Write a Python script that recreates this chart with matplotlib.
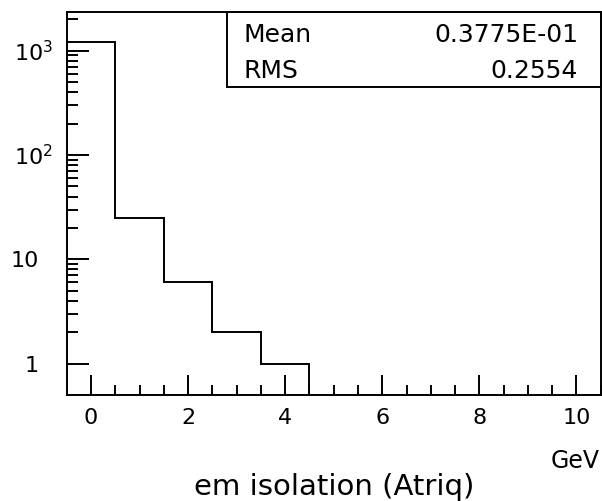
import matplotlib
matplotlib.use("Agg")
import matplotlib.pyplot as plt
import matplotlib.transforms as mtransforms
from matplotlib.ticker import FixedLocator, NullFormatter
import numpy as np

# Histogram data: em isolation (Atriq), 11 bins of 1 GeV from -0.5 to 10.5
bin_edges = np.arange(-0.5, 11.0, 1.0)
counts = [1211, 25, 6, 2, 1, 0, 0, 0, 0, 0, 0]
stat_names = ["Mean", "RMS"]
stat_values = ["0.3775E-01", "0.2554"]
x_major = [0, 2, 4, 6, 8, 10]
y_major = [1, 10, 100, 1000]
y_major_labels = ["1", "10", r"10$^{2}$", r"10$^{3}$"]

lw = 1.4

fig = plt.figure(figsize=(6.02, 5.01), dpi=100)
ax = fig.add_axes([66.7 / 602, 106 / 501, 534 / 602, 383 / 501])

ax.set_yscale("log", nonpositive="clip")
ax.stairs(counts, bin_edges, color="black", linewidth=lw)

ax.set_xlim(-0.5, 10.5)
ax.set_ylim(0.5, 2350)

for sp in ax.spines.values():
    sp.set_linewidth(lw)

# x ticks
ax.xaxis.set_major_locator(FixedLocator(x_major))
ax.xaxis.set_minor_locator(FixedLocator(np.arange(0, 10.6, 0.5)))
ax.set_xticklabels([str(v) for v in x_major])
ax.tick_params(axis="x", which="major", direction="in", length=14.4, width=lw,
               labelsize=16, pad=9, top=False)
ax.tick_params(axis="x", which="minor", direction="in", length=7.2, width=lw, top=False)

# y ticks
minors = [m * 10 ** d for d in range(0, 4) for m in range(2, 10)]
ax.yaxis.set_major_locator(FixedLocator(y_major))
ax.yaxis.set_minor_locator(FixedLocator(minors))
ax.yaxis.set_minor_formatter(NullFormatter())
ax.set_yticklabels(y_major_labels)
ax.tick_params(axis="y", which="major", direction="in", length=15.8, width=lw,
               labelsize=16, pad=20, right=False)
ax.tick_params(axis="y", which="minor", direction="in", length=7.6, width=lw, right=False)

# keep the mantissa of 10^n aligned with the plain labels
shift = mtransforms.ScaledTranslation(14 / 100, 0, fig.dpi_scale_trans)
for lab in ax.get_yticklabels():
    if "$" in lab.get_text():
        lab.set_transform(lab.get_transform() + shift)

# statistics box
ax.add_patch(plt.Rectangle((0.3007, 0.805), 1 - 0.3007, 0.195, transform=ax.transAxes,
                           fill=False, edgecolor="black", linewidth=lw, clip_on=False))
for i, (name, val) in enumerate(zip(stat_names, stat_values)):
    y = 0.9225 - i * 0.0956
    ax.text(0.3311, y, name, transform=ax.transAxes, fontsize=18, va="baseline", ha="left")
    ax.text(0.9575, y, val, transform=ax.transAxes, fontsize=18, va="baseline", ha="right")

fig.text(600 / 602, 33 / 501, "GeV", fontsize=17, ha="right", va="baseline")
fig.text(334 / 602, 6 / 501, "em isolation (Atriq)", fontsize=21, ha="center", va="baseline")

fig.savefig("out.png", dpi=100, facecolor="white")
